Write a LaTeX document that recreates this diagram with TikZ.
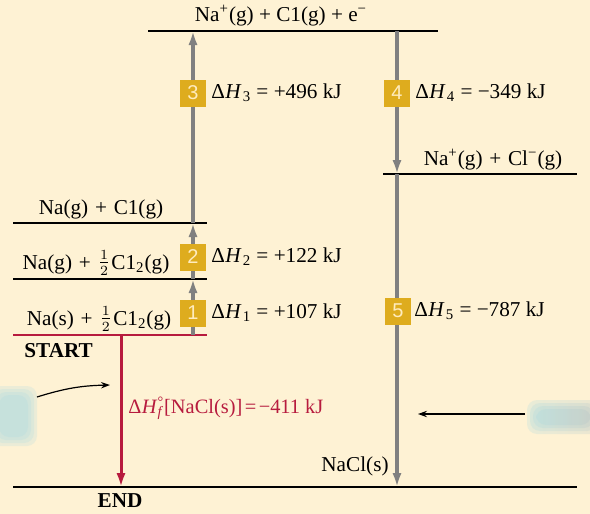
\documentclass[tikz,border=0pt]{standalone}
\usepackage{amsmath}
\usepackage{fontspec}
\setmainfont{Liberation Serif}
\setsansfont{Liberation Sans}
\usetikzlibrary{arrows.meta,positioning}
\definecolor{bgcream}{RGB}{254,242,212}
\definecolor{laddergrey}{RGB}{128,128,128}
\definecolor{formred}{RGB}{183,27,62}
\definecolor{stepgold}{RGB}{222,172,30}
\definecolor{stepnum}{RGB}{255,236,190}
\definecolor{blobcyan}{RGB}{160,216,228}
\definecolor{blobgrey}{RGB}{170,190,196}

\newcommand{\pl}{\hspace{0.32em}+\hspace{0.32em}}
\newcommand{\dH}[1]{Δ\kern0.02em\textit{H}\kern0.05em\textsubscript{#1}}
\newcommand{\half}{\raisebox{0.05em}{\(\tfrac{1}{2}\)}\kern0.05em}

\begin{document}
\begin{tikzpicture}[
    x=0.5pt,
    y=-0.5pt,
    font=\fontsize{10.6}{12.5}\selectfont,
    line cap=butt,
    >=Latex,
    level/.style={
      draw=black,
      line width=1.1pt
    },
    startlevel/.style={
      draw=formred,
      line width=1.1pt
    },
    ladder/.style={
      draw=laddergrey,
      line width=2pt,
      -{Latex[length=7pt,width=4.6pt]}
    },
    formation/.style={
      draw=formred,
      line width=1.5pt,
      -{Latex[length=7pt,width=4.6pt]}
    },
    stepno/.style={
      fill=stepgold,
      text=stepnum,
      minimum width=13pt,
      minimum height=13.5pt,
      inner sep=0pt,
      font=\sffamily\fontsize{10}{12}\selectfont
    },
    lbl/.style={
      inner sep=1pt,
      text=black
    },
    pointer/.style={
      draw=black,
      line width=0.6pt,
      -{Stealth[length=4.5pt,width=3.2pt]}
    }
]
\useasboundingbox (0,0) rectangle (590,514);
\fill[bgcream] (0,0) rectangle (590,514);

% Cropped callout boxes at the page edges, only their blurred ends show.
\foreach \g in {0,3,6,9} {
  \fill[blobcyan,opacity=0.2,rounded corners=5pt]
    (-10+\g,386+\g) rectangle (37-\g,446-\g);
  \shade[left color=blobcyan,right color=blobgrey,opacity=0.22,
         rounded corners=5pt]
    (527+\g,400+\g) rectangle (600-\g,434-\g);
}

% Energy levels.
\coordinate (ionL) at (148,31);  \coordinate (ionR) at (438,31);
\coordinate (pairL) at (383,174); \coordinate (pairR) at (577,174);
\coordinate (gasL) at (13,223);  \coordinate (gasR) at (207,223);
\coordinate (atomL) at (13,279); \coordinate (atomR) at (207,279);
\coordinate (baseL) at (13,335); \coordinate (baseR) at (207,335);
\coordinate (endL) at (13,487);  \coordinate (endR) at (577,487);

\draw[level] (ionL) -- (ionR);
\draw[level] (pairL) -- (pairR);
\draw[level] (gasL) -- (gasR);
\draw[level] (atomL) -- (atomR);
\draw[level] (endL) -- (endR);
\draw[startlevel] (baseL) -- (baseR);

% Born-Haber steps, up the left side and down the right side.
\coordinate (up0) at (193,335); \coordinate (up1) at (193,279);
\coordinate (up2) at (193,223); \coordinate (up3) at (193,31);
\coordinate (dn0) at (397,31);  \coordinate (dn1) at (397,174);
\coordinate (dn2) at (397,487);
\coordinate (fm0) at (121,335); \coordinate (fm1) at (121,487);

\draw[ladder] (up0) -- (up1);
\draw[ladder] (up1) -- (up2);
\draw[ladder] (up2) -- (up3);
\draw[ladder] (dn0) -- (dn1);
\draw[ladder] (dn1) -- (dn2);
\draw[formation] (fm0) -- (fm1);

\node[stepno] (n1) at (193,313) {1};
\node[stepno] (n2) at (193,257) {2};
\node[stepno] (n3) at (193,93) {3};
\node[stepno] (n4) at (397,93) {4};
\node[stepno] (n5) at (398,311) {5};

\node[lbl,anchor=west] (dh1) at (209,313) {\dH{1} = +107 kJ};
\node[lbl,anchor=west] (dh2) at (209,257) {\dH{2} = +122 kJ};
\node[lbl,anchor=west] (dh3) at (209,93) {\dH{3} = +496 kJ};
\node[lbl,anchor=west] (dh4) at (413,93) {\dH{4} = −349 kJ};
\node[lbl,anchor=west] (dh5) at (412,311) {\dH{5} = −787 kJ};

% Species on each level.
\node[lbl] (ion) at (281,16)
  {Na\textsuperscript{+}(g) + C1(g) + e\textsuperscript{−}};
\node[lbl] (pair) at (493,160)
  {Na\textsuperscript{+}(g)\pl Cl\textsuperscript{−}(g)};
\node[lbl] (gas) at (101,209) {Na(g)\pl C1(g)};
\node[lbl] (atom) at (96,263)
  {Na(g)\pl\half C1\textsubscript{2}(g)};
\node[lbl] (base) at (99,319)
  {Na(s)\pl\half C1\textsubscript{2}(g)};
\node[lbl] (salt) at (355,466) {NaCl(s)};
\node[lbl,anchor=west,font=\fontsize{10.6}{12.5}\selectfont\bfseries]
  (start) at (22,351) {START};
\node[lbl,font=\fontsize{10.6}{12.5}\selectfont\bfseries]
  (finish) at (120,501) {END};

\node[lbl,anchor=west,text=formred,font=\fontsize{10.2}{12}\selectfont]
  (dhf) at (126,408)
  {Δ\kern0.02em\textit{H}\rlap{\textsuperscript{°}}\textsubscript{\textit{f}}[NaCl(s)]\kern0.12em=\kern0.12em−411 kJ};

% Pointers from the cropped callouts.
\coordinate (pl0) at (37,397);  \coordinate (pl1) at (110,385);
\coordinate (pr0) at (525,414); \coordinate (pr1) at (418,414);
\draw[pointer] (pl0) to[bend left=8] (pl1);
\draw[pointer] (pr0) -- (pr1);

\end{tikzpicture}
\end{document}
